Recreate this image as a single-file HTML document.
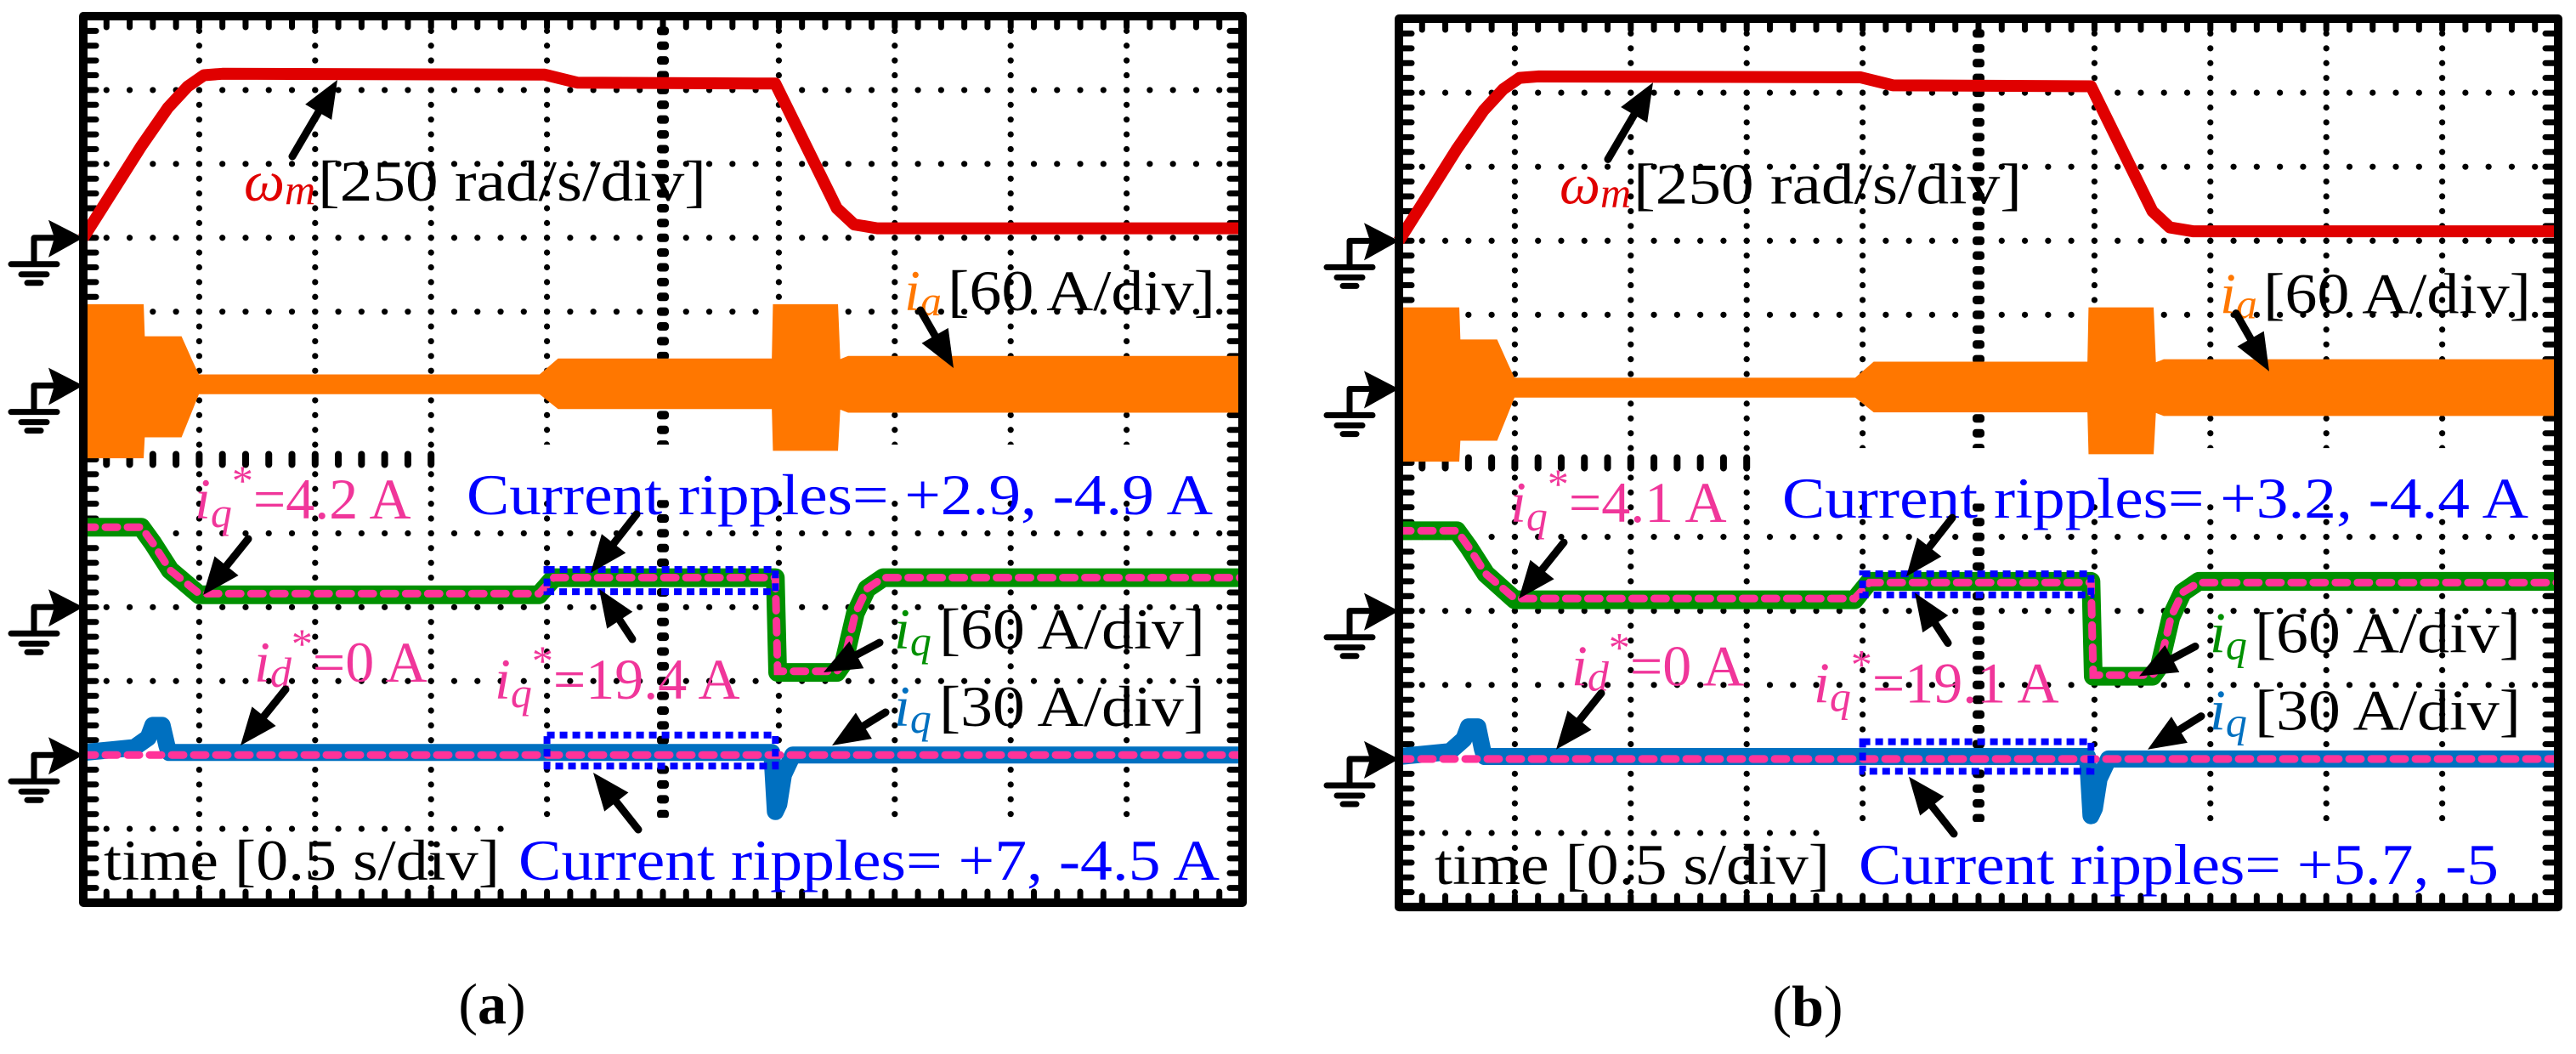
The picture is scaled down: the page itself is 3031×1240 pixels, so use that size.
<!DOCTYPE html>
<html><head><meta charset="utf-8">
<style>
html,body{margin:0;padding:0;background:#fff;}
svg{display:block;font-family:"Liberation Serif",serif;}
</style></head>
<body>
<svg id="fig" width="3031" height="1240" viewBox="0 0 3031 1240" xmlns="http://www.w3.org/2000/svg">
  <g id="panelA" transform="translate(98,19)">
    <g class="plot"></g>
    <g class="labels" font-size="68">
      <text x="189" y="217" fill="#e00000" font-style="italic">ω<tspan font-size="50" dy="4">m</tspan></text>
      <text x="276" y="217" fill="#000" textLength="457" lengthAdjust="spacingAndGlyphs">[250 rad/s/div]</text>
      <text x="966" y="346" fill="#ff7700" font-style="italic">i<tspan font-size="50" dy="6">a</tspan></text>
      <text x="1017" y="346" fill="#000" textLength="315" lengthAdjust="spacingAndGlyphs">[60 A/div]</text>
      <text x="131" y="591" fill="#f0369a"><tspan font-style="italic">i</tspan><tspan font-style="italic" font-size="50" dy="10">q</tspan><tspan font-size="50" dy="-38">*</tspan><tspan dy="28">=4.2 A</tspan></text>
      <text x="451" y="586" fill="#0000ff" textLength="878" lengthAdjust="spacingAndGlyphs">Current ripples= +2.9, -4.9 A</text>
      <text x="954" y="744" fill="#009000" font-style="italic">i<tspan font-size="50" dy="8">q</tspan></text>
      <text x="1007" y="744" fill="#000" textLength="313" lengthAdjust="spacingAndGlyphs">[60 A/div]</text>
      <text x="201" y="783" fill="#f0369a"><tspan font-style="italic">i</tspan><tspan font-style="italic" font-size="50" dy="6">d</tspan><tspan font-size="50" dy="-34">*</tspan><tspan dy="28">=0 A</tspan></text>
      <text x="484" y="803" fill="#f0369a"><tspan font-style="italic">i</tspan><tspan font-style="italic" font-size="50" dy="10">q</tspan><tspan font-size="50" dy="-38">*</tspan><tspan dy="28">=19.4 A</tspan></text>
      <text x="954" y="835" fill="#0070c0" font-style="italic">i<tspan font-size="50" dy="8">q</tspan></text>
      <text x="1007" y="835" fill="#000" textLength="313" lengthAdjust="spacingAndGlyphs">[30 A/div]</text>
      <text x="24" y="1016" fill="#000" textLength="466" lengthAdjust="spacingAndGlyphs">time [0.5 s/div]</text>
      <text x="512" y="1016" fill="#0000ff" textLength="825" lengthAdjust="spacingAndGlyphs">Current ripples= +7, -4.5 A</text>
      <text x="481" y="1185" fill="#000" text-anchor="middle">(<tspan font-weight="bold">a</tspan>)</text>
    </g>
    <g class="arrows"></g>
  </g>
  <g id="panelB" transform="translate(1646,22) scale(1,1.002)">
    <g class="plot"></g>
    <g class="labels" font-size="68">
      <text x="189" y="217" fill="#e00000" font-style="italic">ω<tspan font-size="50" dy="4">m</tspan></text>
      <text x="276" y="217" fill="#000" textLength="457" lengthAdjust="spacingAndGlyphs">[250 rad/s/div]</text>
      <text x="966" y="346" fill="#ff7700" font-style="italic">i<tspan font-size="50" dy="6">a</tspan></text>
      <text x="1017" y="346" fill="#000" textLength="315" lengthAdjust="spacingAndGlyphs">[60 A/div]</text>
      <text x="131" y="591" fill="#f0369a"><tspan font-style="italic">i</tspan><tspan font-style="italic" font-size="50" dy="10">q</tspan><tspan font-size="50" dy="-38">*</tspan><tspan dy="28">=4.1 A</tspan></text>
      <text x="451" y="586" fill="#0000ff" textLength="878" lengthAdjust="spacingAndGlyphs">Current ripples= +3.2, -4.4 A</text>
      <text x="954" y="744" fill="#009000" font-style="italic">i<tspan font-size="50" dy="8">q</tspan></text>
      <text x="1007" y="744" fill="#000" textLength="313" lengthAdjust="spacingAndGlyphs">[60 A/div]</text>
      <text x="203" y="783" fill="#f0369a"><tspan font-style="italic">i</tspan><tspan font-style="italic" font-size="50" dy="6">d</tspan><tspan font-size="50" dy="-34">*</tspan><tspan dy="28">=0 A</tspan></text>
      <text x="488" y="803" fill="#f0369a"><tspan font-style="italic">i</tspan><tspan font-style="italic" font-size="50" dy="10">q</tspan><tspan font-size="50" dy="-38">*</tspan><tspan dy="28">=19.1 A</tspan></text>
      <text x="954" y="835" fill="#0070c0" font-style="italic">i<tspan font-size="50" dy="8">q</tspan></text>
      <text x="1007" y="835" fill="#000" textLength="313" lengthAdjust="spacingAndGlyphs">[30 A/div]</text>
      <text x="42" y="1016" fill="#000" textLength="465" lengthAdjust="spacingAndGlyphs">time [0.5 s/div]</text>
      <text x="541" y="1016" fill="#0000ff" textLength="753" lengthAdjust="spacingAndGlyphs">Current ripples= +5.7, -5</text>
      <text x="481" y="1182" fill="#000" text-anchor="middle">(<tspan font-weight="bold">b</tspan>)</text>
    </g>
    <g class="arrows"></g>
  </g>
</svg>
<script>
// ---- data: panel (a) ----
const omegaTimeA = [0,0.125,0.25,0.365,0.45,0.52,0.6,1.99,2.13,2.985,3.25,3.325,3.425,5];
const omegaValA  = [0,155,310,440,512,550,555,552,525,522,100,45,32,32];
const iaTimeA  = [0,0.255,0.26,0.42,0.465,0.495,1.97,2.05,2.975,2.98,3.25,3.26,3.3,5];
const iaUpperA = [65,65,39,39,20,8,8,21,21,65,65,20,23,23];
const iaLowerA = [-58,-58,-41,-41,-20,-6,-6,-18,-18,-52,-52,-18,-21,-21];
const iqTimeA = [0,0.25,0.3,0.375,0.5,1.965,2.03,2.985,2.995,3.25,3.28,3.33,3.38,3.45,5];
const iqValA  = [65,65,52,30,10,10,24,24,-53,-53,-45,-5,15,24,24];
const iqRefValA = [65,65,52,30,11,11,24,24,-52,-52,-45,-5,15,24,24];
const idTimeA = [0,0.22,0.28,0.3,0.34,0.36,0.37,2.97,2.985,3.0,3.02,3.06,5];
const idValA  = [1,3,7,12,12,4,1,1,-23,-20,-8,0,0];
const idRefTime = [0,5];
const idRefVal  = [0,0];
const rippleBoxTimeA = [2.0,2.985];
const rippleIqBoxA = [12.6,30.6];
const rippleIdBoxA = [-4.5,8.1];
// ---- data: panel (b) ----
const omegaTimeB = [0,0.125,0.25,0.365,0.45,0.52,0.6,1.99,2.13,2.985,3.25,3.325,3.425,5];
const omegaValB  = [0,155,310,440,512,550,555,552,525,522,100,45,32,32];
const iaTimeB  = [0,0.255,0.26,0.42,0.465,0.495,1.97,2.05,2.975,2.98,3.25,3.26,3.3,5];
const iaUpperB = [65,65,39,39,20,8,8,21,21,65,65,20,23,23];
const iaLowerB = [-58,-58,-41,-41,-20,-6,-6,-18,-18,-52,-52,-18,-21,-21];
const iqTimeB = [0,0.25,0.3,0.375,0.5,1.965,2.03,2.985,2.995,3.25,3.28,3.33,3.38,3.45,5];
const iqValB  = [65,65,52,30,9,9,24,24,-53,-53,-45,-5,15,24,24];
const iqRefValB = [65,65,52,30,10,10,23,23,-52,-52,-45,-5,15,23,23];
const idTimeB = [0,0.22,0.28,0.3,0.34,0.36,0.37,2.97,2.985,3.0,3.02,3.06,5];
const idValB  = [1,3,8,13,13,4,1,1,-23,-20,-8,0,0];
const rippleBoxTimeB = [2.0,2.985];
const rippleIqBoxB = [13,30];
const rippleIdBoxB = [-5,7];
// arrows: [fromX, fromY, tipX, tipY] in panel-local px (annotation geometry)
const arrowSegs = [[246,165,299,75],[985,346,1024,414],[194,615,141,681],[651,586,597,655],[646,733,607,674],[937,737,871,772],[238,792,185,858],[944,819,881,858],[653,957,600,890]];

const NS = "http://www.w3.org/2000/svg";
const W = 1364, H = 1043, DX = W/10, DY = H/12;
function mk(tag, attrs, parent){ const e = document.createElementNS(NS, tag); for (const k in attrs) e.setAttribute(k, attrs[k]); parent.appendChild(e); return e; }
function xScale(t){ return t/0.5*DX; }
function yScale(v, ground, perDiv){ return (ground - v/perDiv)*DY; }
function linePts(ts, vs, g, s){ return ts.map((t,i)=>xScale(t).toFixed(1)+","+yScale(vs[i],g,s).toFixed(1)).join(" "); }

function drawPanel(root, d){
  const plot = root.querySelector(".plot");
  const grid = mk("g", {fill:"#000"}, plot);
  
  
  for (let i=1;i<10;i++){
    if (i===5) continue;
    for (let k=1;k<60;k++){ mk("circle",{cx:i*DX, cy:k*DY/5, r:3.6}, grid); }
  }
  for (let j=1;j<12;j++){
    if (j===6) continue;
    for (let k=1;k<50;k++){ mk("circle",{cx:k*DX/5, cy:j*DY, r:3.6}, grid); }
  }
  for (let k=1;k<60;k++) mk("rect",{x:5*DX-7, y:k*DY/5-5, width:14, height:10, rx:4}, grid);
  for (let k=1;k<50;k++) mk("rect",{x:k*DX/5-4, y:6*DY-10, width:8, height:20, rx:4}, grid);
  const mask = mk("g",{fill:"#fff"}, plot);
  
  
  mk("rect",{x:3.05*DX, y:5.8*DY, width:6.95*DX, height:0.75*DY}, mask);
  mk("rect",{x:3.65*DX, y:10.85*DY, width:6.35*DX, height:1.15*DY}, mask);
  const ticks = mk("g",{stroke:"#000","stroke-width":7,"stroke-linecap":"round"}, plot);
  
  
  for (let k=1;k<60;k++){ const y=k*DY/5; mk("line",{x1:0,y1:y,x2:15,y2:y},ticks); mk("line",{x1:W,y1:y,x2:W-15,y2:y},ticks); }
  for (let k=1;k<50;k++){ const x=k*DX/5; mk("line",{x1:x,y1:0,x2:x,y2:13},ticks); mk("line",{x1:x,y1:H,x2:x,y2:H-13},ticks); }
  const om = mk("polyline",{points:linePts(d.omegaT,d.omegaV,3,250), fill:"none", stroke:"#e00000","stroke-width":14,"stroke-linejoin":"round"}, plot);
  
  
  const up = d.iaT.map((t,i)=>xScale(t).toFixed(1)+","+yScale(d.iaU[i],5,60).toFixed(1));
  const lo = d.iaT.map((t,i)=>xScale(t).toFixed(1)+","+yScale(d.iaL[i],5,60).toFixed(1)).reverse();
  const ia = mk("polygon",{points:up.concat(lo).join(" "), fill:"#ff7700", stroke:"#ff7700","stroke-width":3}, plot);
  
  
  const iq = mk("polyline",{points:linePts(d.iqT,d.iqV,8,60), fill:"none", stroke:"#009000","stroke-width":22,"stroke-linejoin":"round"}, plot);
  
  
  const iqr = mk("polyline",{points:linePts(d.iqT,d.iqR,8,60), fill:"none", stroke:"#ff3399","stroke-width":9,"stroke-dasharray":"14 12","stroke-linecap":"round"}, plot);
  
  
  const id = mk("polyline",{points:linePts(d.idT,d.idV,10,30), fill:"none", stroke:"#0070c0","stroke-width":20,"stroke-linejoin":"round"}, plot);
  
  
  const idr = mk("polyline",{points:linePts(idRefTime,idRefVal,10,30), fill:"none", stroke:"#ff3399","stroke-width":9,"stroke-dasharray":"14 12","stroke-linecap":"round"}, plot);
  
  
  const bx0 = xScale(d.boxT[0]), bx1 = xScale(d.boxT[1]);
  const b1y0 = yScale(d.boxIq[1],8,60), b1y1 = yScale(d.boxIq[0],8,60);
  const rb1 = mk("rect",{x:bx0,y:b1y0,width:bx1-bx0,height:b1y1-b1y0,fill:"none",stroke:"#0000ff","stroke-width":8,"stroke-dasharray":"9 6"}, plot);
  
  
  const b2y0 = yScale(d.boxId[1],10,30), b2y1 = yScale(d.boxId[0],10,30);
  const rb2 = mk("rect",{x:bx0,y:b2y0,width:bx1-bx0,height:b2y1-b2y0,fill:"none",stroke:"#0000ff","stroke-width":8,"stroke-dasharray":"9 6"}, plot);
  
  
  const fr = mk("rect",{x:0,y:0,width:W,height:H,fill:"none",stroke:"#000","stroke-width":10,"stroke-linejoin":"round"}, plot);
  
  
  [3,5,8,10].forEach(g=>{
    const gy = g*DY;
    const gm = mk("g",{transform:"translate(0,"+gy.toFixed(1)+")"}, plot);
    
    
    mk("path",{d:"M0,0 L-41,-21 L-34,0 L-41,23 Z", fill:"#000"}, gm);
    mk("path",{d:"M-36,0 H-58 V31 M-85,31 H-31 M-73,43 H-43 M-66,53 H-50", fill:"none", stroke:"#000","stroke-width":7,"stroke-linecap":"round","stroke-linejoin":"round"}, gm);
  });
  const ag = root.querySelector(".arrows");
  arrowSegs.forEach(a=>{
    const [x0,y0,x1,y1] = a;
    const ang = Math.atan2(y1-y0,x1-x0), L = 44, Wd = 18;
    const bx = x1 - L*Math.cos(ang), by = y1 - L*Math.sin(ang);
    const px = -Math.sin(ang)*Wd, py = Math.cos(ang)*Wd;
    const g = mk("g",{}, ag);
    
    
    mk("line",{x1:x0,y1:y0,x2:bx+ (x1-bx)*0.3,y2:by+(y1-by)*0.3,stroke:"#000","stroke-width":9,"stroke-linecap":"round"}, g);
    mk("polygon",{points:[x1+","+y1,(bx+px)+","+(by+py),(bx-px)+","+(by-py)].join(" "), fill:"#000"}, g);
  });
}
drawPanel(document.getElementById("panelA"), {omegaT:omegaTimeA, omegaV:omegaValA, iaT:iaTimeA, iaU:iaUpperA, iaL:iaLowerA, iqT:iqTimeA, iqV:iqValA, iqR:iqRefValA, idT:idTimeA, idV:idValA, boxT:rippleBoxTimeA, boxIq:rippleIqBoxA, boxId:rippleIdBoxA});
drawPanel(document.getElementById("panelB"), {omegaT:omegaTimeB, omegaV:omegaValB, iaT:iaTimeB, iaU:iaUpperB, iaL:iaLowerB, iqT:iqTimeB, iqV:iqValB, iqR:iqRefValB, idT:idTimeB, idV:idValB, boxT:rippleBoxTimeB, boxIq:rippleIqBoxB, boxId:rippleIdBoxB});
</script>
</body></html>
